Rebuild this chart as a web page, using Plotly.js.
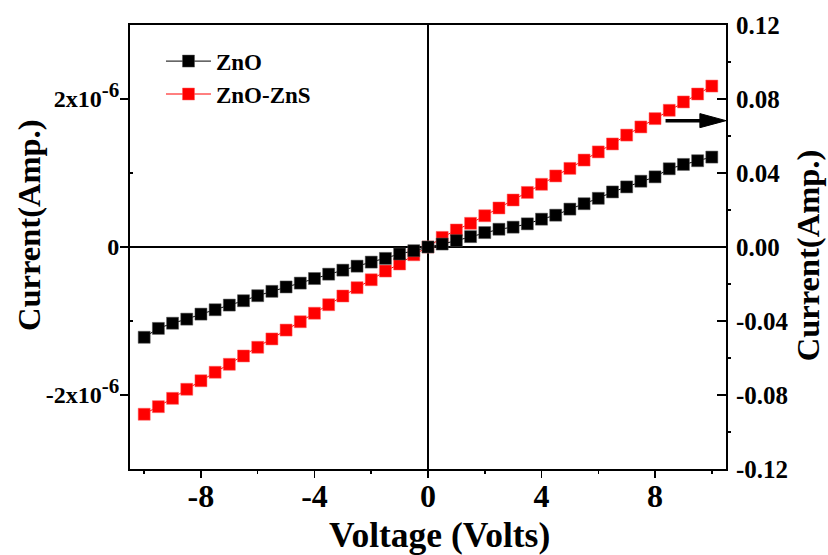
<!DOCTYPE html>
<html>
<head>
<meta charset="utf-8">
<script src="https://cdn.plot.ly/plotly-3.0.1.min.js"></script>
<style>html,body{margin:0;padding:0;background:#fff;}#chart{width:828px;height:555px;}</style>
</head>
<body>
<div id="chart"></div>
<script>
var voltage = [-10,-9.5,-9,-8.5,-8,-7.5,-7,-6.5,-6,-5.5,-5,-4.5,-4,-3.5,-3,-2.5,-2,-1.5,-1,-0.5,0,0.5,1,1.5,2,2.5,3,3.5,4,4.5,5,5.5,6,6.5,7,7.5,8,8.5,9,9.5,10];
var znoCurrent = [-1.22e-6,-1.10e-6,-1.03e-6,-0.975e-6,-0.907e-6,-0.848e-6,-0.785e-6,-0.726e-6,-0.658e-6,-0.599e-6,-0.54e-6,-0.488e-6,-0.426e-6,-0.367e-6,-0.313e-6,-0.259e-6,-0.204e-6,-0.154e-6,-0.095e-6,-0.05e-6,0,0.04e-6,0.086e-6,0.14e-6,0.195e-6,0.24e-6,0.268e-6,0.313e-6,0.376e-6,0.43e-6,0.512e-6,0.585e-6,0.658e-6,0.744e-6,0.812e-6,0.889e-6,0.948e-6,1.057e-6,1.116e-6,1.166e-6,1.215e-6];
var znsCurrent = [-0.0904,-0.0863,-0.0818,-0.0769,-0.0723,-0.0677,-0.0634,-0.0589,-0.0542,-0.0497,-0.0449,-0.0404,-0.0358,-0.0312,-0.0265,-0.0220,-0.0177,-0.0130,-0.0092,-0.0042,0,0.0052,0.0092,0.0128,0.0169,0.0211,0.0254,0.0295,0.0339,0.0384,0.0425,0.0470,0.0514,0.0557,0.0605,0.0649,0.0694,0.0739,0.0784,0.0827,0.0870];
var xTicks = [-8,-4,0,4,8];
var xMinorTicks = [-10,-6,-2,2,6,10];
var yTicks = [-2e-6,0,2e-6];
var yTickText = ['-2x10<sup><span style="font-size:21px">-6</span></sup>','0','2x10<sup><span style="font-size:21px">-6</span></sup>'];
var yMinorTicks = [-1e-6,1e-6];
var y2Ticks = [-0.12,-0.08,-0.04,0,0.04,0.08,0.12];
var y2TickText = ['-0.12','-0.08','-0.04','0.00','0.04','0.08','0.12'];
var y2MinorTicks = [-0.10,-0.06,-0.02,0.02,0.06,0.10];
var seriesNames = ['ZnO','ZnO-ZnS'];
var xTitle = 'Voltage (Volts)';
var yTitle = 'Current(Amp.)';

var FONT = 'Liberation Serif, Times New Roman, serif';

var traces = [
  {x: voltage, y: znsCurrent, yaxis: 'y2', name: seriesNames[1], type: 'scatter', mode: 'lines+markers',
   line: {color: '#ff0000', width: 1}, marker: {symbol: 'square', size: 12, color: '#ff0000', line: {width: 0.5, color: '#ff6060'}}},
  {x: voltage, y: znoCurrent, yaxis: 'y', name: seriesNames[0], type: 'scatter', mode: 'lines+markers',
   line: {color: '#000000', width: 1}, marker: {symbol: 'square', size: 12, color: '#000000', line: {width: 0.5, color: '#555555'}}}
];

var layout = {
  width: 828, height: 555,
  margin: {l: 130, r: 102, t: 25, b: 86},
  paper_bgcolor: '#fff', plot_bgcolor: '#fff',
  font: {family: FONT, color: '#000', weight: 700},
  showlegend: true,
  legend: {x: 0.052, y: 0.967, xanchor: 'left', yanchor: 'top', traceorder: 'reversed', itemwidth: 45,
           font: {family: FONT, size: 23, color: '#000', weight: 700}, bgcolor: 'rgba(0,0,0,0)', tracegroupgap: 0},
  xaxis: {range: [-10.5, 10.5], tickmode: 'array', tickvals: xTicks, ticktext: xTicks.map(String),
          ticks: 'outside', ticklen: 7, tickwidth: 1.5, tickcolor: '#000',
          minor: {tickmode: 'array', tickvals: xMinorTicks, ticks: 'outside', ticklen: 3, tickwidth: 1.5, tickcolor: '#000'},
          showline: true, linewidth: 2, linecolor: '#000', mirror: true,
          showgrid: false, zeroline: true, zerolinecolor: '#000', zerolinewidth: 1.5,
          ticklabelstandoff: -9,
          tickfont: {family: FONT, size: 32, color: '#000', weight: 700}},
  yaxis: {range: [-3e-6, 3e-6], tickmode: 'array', tickvals: yTicks, ticktext: yTickText, side: 'left',
          overlaying: 'y2',
          ticks: 'outside', ticklen: 8, tickwidth: 1.5, tickcolor: '#000',
          minor: {tickmode: 'array', tickvals: yMinorTicks, ticks: 'inside', ticklen: 3, tickwidth: 1.5, tickcolor: '#000'},
          showline: true, linewidth: 2, linecolor: '#000',
          showgrid: false, zeroline: true, zerolinecolor: '#000', zerolinewidth: 1.5,
          ticklabelstandoff: -4,
          tickfont: {family: FONT, size: 24, color: '#000', weight: 700}},
  yaxis2: {range: [-0.12, 0.12], tickmode: 'array', tickvals: y2Ticks, ticktext: y2TickText, side: 'right',
          ticks: 'inside', ticklen: 9, tickwidth: 1.5, tickcolor: '#000',
          minor: {tickmode: 'array', tickvals: y2MinorTicks, ticks: 'outside', ticklen: 3, tickwidth: 1.5, tickcolor: '#000'},
          showline: true, linewidth: 2, linecolor: '#000',
          showgrid: false, zeroline: false,
          ticklabelstandoff: 3,
          tickfont: {family: FONT, size: 25, color: '#000', weight: 700}},
  annotations: [
    {xref: 'paper', yref: 'paper', x: 0.5185, y: -0.1486, xanchor: 'center', yanchor: 'middle', text: xTitle, showarrow: false,
     font: {family: FONT, size: 35.5, color: '#000', weight: 700}},
    {xref: 'paper', yref: 'paper', x: -0.1695, y: 0.5495, xanchor: 'center', yanchor: 'middle', text: yTitle, showarrow: false, textangle: -90,
     font: {family: FONT, size: 32.5, color: '#000', weight: 700}},
    {xref: 'paper', yref: 'paper', x: 1.139, y: 0.481, xanchor: 'center', yanchor: 'middle', text: yTitle, showarrow: false, textangle: -90,
     font: {family: FONT, size: 32.5, color: '#000', weight: 700}}
  ],
  shapes: [
    {type: 'line', xref: 'x', yref: 'y2', x0: 8.37, x1: 9.7, y0: 0.0683, y1: 0.0683, line: {color: '#000', width: 3.5}},
    {type: 'path', xref: 'x', yref: 'y2', path: 'M 9.58 0.0645 L 10.5 0.0683 L 9.58 0.0721 Z', fillcolor: '#000', line: {color: '#000', width: 1}}
  ]
};

Plotly.newPlot('chart', traces, layout, {displayModeBar: false, staticPlot: true});
</script>
</body>
</html>
